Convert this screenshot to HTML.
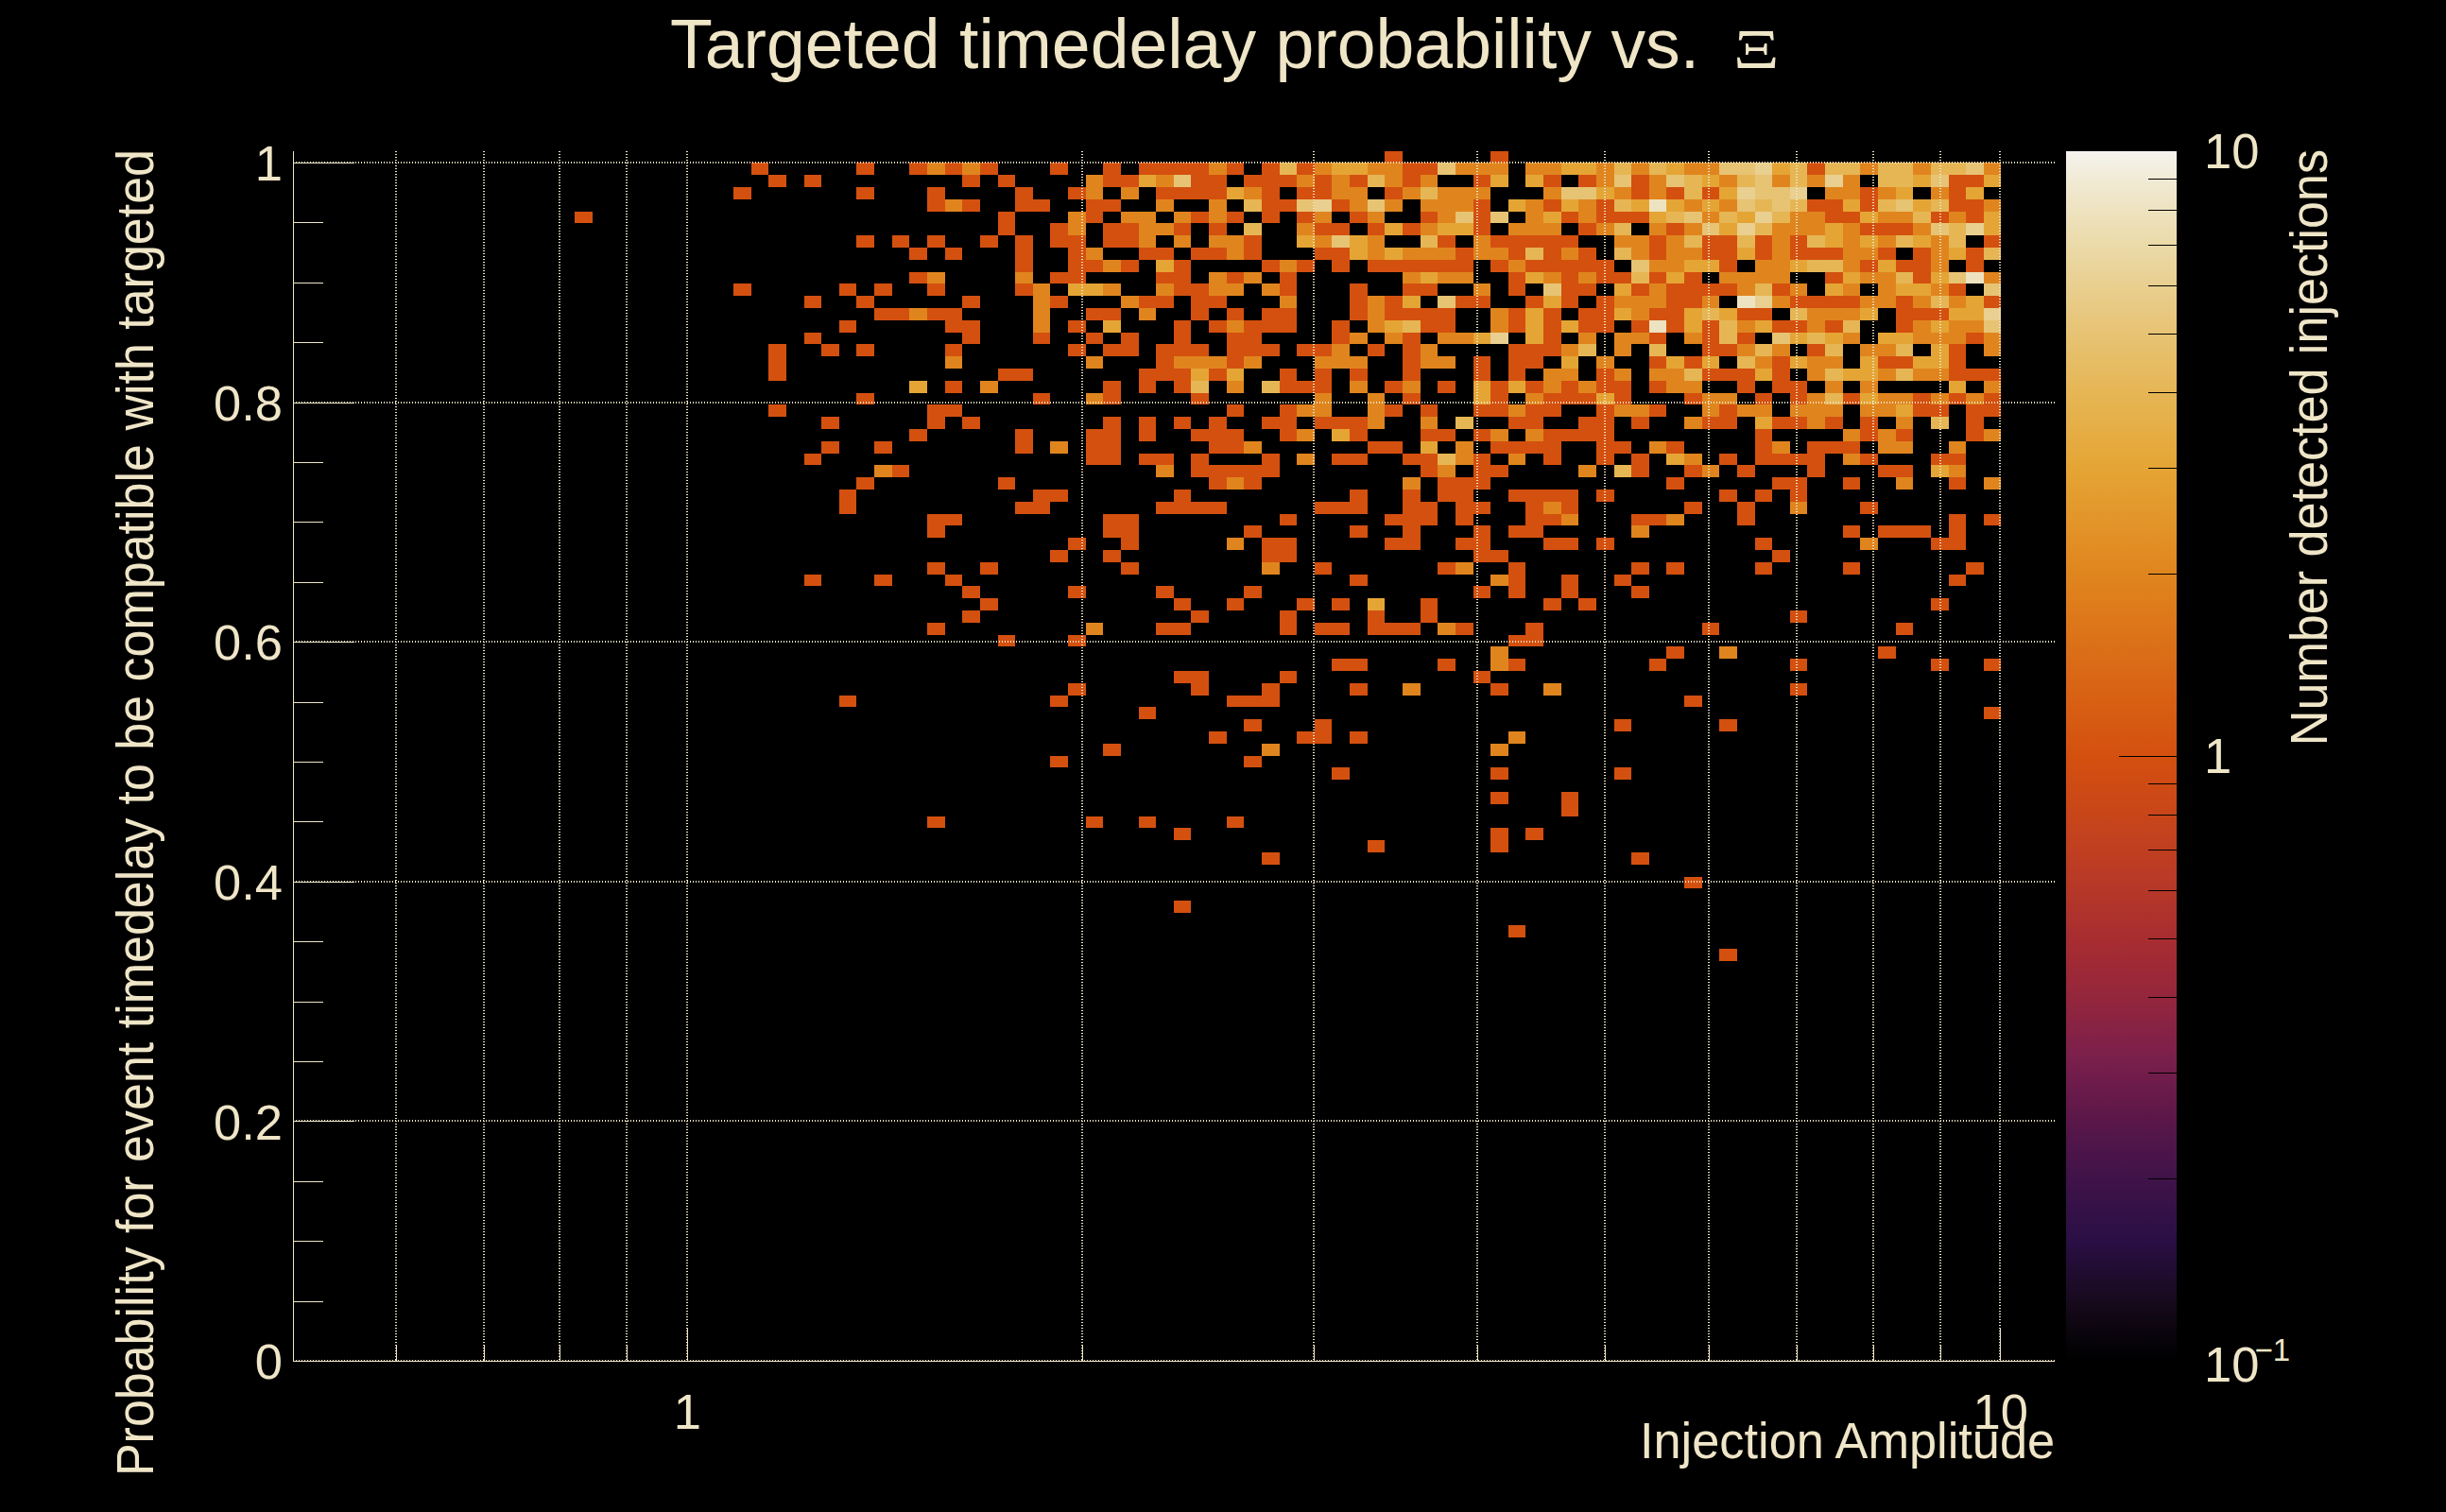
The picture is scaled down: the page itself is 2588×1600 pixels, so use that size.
<!DOCTYPE html><html><head><meta charset="utf-8"><title>Targeted timedelay probability</title><style>

html,body{margin:0;padding:0;background:#000;}
body{width:2588px;height:1600px;position:relative;overflow:hidden;font-family:"Liberation Sans",sans-serif;color:#efe5c7;}
.t{position:absolute;white-space:nowrap;line-height:1;}
.title{font-size:73.4px;left:709px;top:10.7px;}
.xi{font-family:"Liberation Serif",serif;font-size:58.5px;display:inline-block;transform:scaleX(1.29);transform-origin:0 50%;margin-left:36px;}
.yl{font-size:52.5px;text-align:right;width:200px;left:99px;}
.xl{font-size:52.5px;text-align:center;width:200px;}
.cl{font-size:52.5px;left:2332px;}
.at{font-size:55px;}

</style></head><body>
<svg width="2588" height="1600" viewBox="0 0 2588 1600" style="position:absolute;left:0;top:0">
<defs><linearGradient id="cb" x1="0" y1="1" x2="0" y2="0">
<stop offset="0.0000" stop-color="#000000"/>
<stop offset="0.0150" stop-color="#060308"/>
<stop offset="0.0500" stop-color="#180a1e"/>
<stop offset="0.1000" stop-color="#2a0f45"/>
<stop offset="0.1500" stop-color="#3f1349"/>
<stop offset="0.2000" stop-color="#5b1749"/>
<stop offset="0.2500" stop-color="#7a1f4c"/>
<stop offset="0.3000" stop-color="#94263c"/>
<stop offset="0.3500" stop-color="#a82d30"/>
<stop offset="0.4000" stop-color="#b93a26"/>
<stop offset="0.4500" stop-color="#c8451a"/>
<stop offset="0.5000" stop-color="#d4500f"/>
<stop offset="0.6505" stop-color="#e0851e"/>
<stop offset="0.7386" stop-color="#e5a535"/>
<stop offset="0.8010" stop-color="#e6b655"/>
<stop offset="0.8495" stop-color="#e7c374"/>
<stop offset="0.8891" stop-color="#e9cf90"/>
<stop offset="0.9225" stop-color="#ebdaa9"/>
<stop offset="0.9515" stop-color="#eee3c0"/>
<stop offset="0.9771" stop-color="#f1ebd6"/>
<stop offset="1.0000" stop-color="#f5f3ef"/>
</linearGradient></defs>
<g shape-rendering="crispEdges">
<rect x="1465" y="160" width="19" height="12" fill="#d4500f"/>
<rect x="1577" y="160" width="19" height="12" fill="#d4500f"/>
<rect x="795" y="172" width="18" height="13" fill="#d4500f"/>
<rect x="906" y="172" width="19" height="13" fill="#d4500f"/>
<rect x="962" y="172" width="19" height="13" fill="#d4500f"/>
<rect x="981" y="172" width="19" height="13" fill="#e0851e"/>
<rect x="1000" y="172" width="18" height="13" fill="#d4500f"/>
<rect x="1018" y="172" width="19" height="13" fill="#e0851e"/>
<rect x="1037" y="172" width="19" height="13" fill="#d4500f"/>
<rect x="1111" y="172" width="19" height="13" fill="#d4500f"/>
<rect x="1167" y="172" width="19" height="13" fill="#d4500f"/>
<rect x="1205" y="172" width="74" height="13" fill="#d4500f"/>
<rect x="1279" y="172" width="19" height="13" fill="#e0851e"/>
<rect x="1298" y="172" width="18" height="13" fill="#d4500f"/>
<rect x="1335" y="172" width="19" height="13" fill="#d4500f"/>
<rect x="1354" y="172" width="18" height="13" fill="#e6b655"/>
<rect x="1372" y="172" width="19" height="13" fill="#d4500f"/>
<rect x="1391" y="172" width="18" height="13" fill="#e0851e"/>
<rect x="1409" y="172" width="38" height="13" fill="#e5a535"/>
<rect x="1447" y="172" width="37" height="13" fill="#e0851e"/>
<rect x="1484" y="172" width="37" height="13" fill="#d4500f"/>
<rect x="1521" y="172" width="19" height="13" fill="#e7c374"/>
<rect x="1540" y="172" width="56" height="13" fill="#e0851e"/>
<rect x="1614" y="172" width="38" height="13" fill="#e0851e"/>
<rect x="1652" y="172" width="37" height="13" fill="#e5a535"/>
<rect x="1689" y="172" width="19" height="13" fill="#e0851e"/>
<rect x="1708" y="172" width="18" height="13" fill="#e6b655"/>
<rect x="1726" y="172" width="19" height="13" fill="#e0851e"/>
<rect x="1745" y="172" width="18" height="13" fill="#e6b655"/>
<rect x="1763" y="172" width="19" height="13" fill="#e5a535"/>
<rect x="1782" y="172" width="37" height="13" fill="#e0851e"/>
<rect x="1819" y="172" width="38" height="13" fill="#e7c374"/>
<rect x="1857" y="172" width="18" height="13" fill="#e9cf90"/>
<rect x="1875" y="172" width="19" height="13" fill="#e5a535"/>
<rect x="1894" y="172" width="18" height="13" fill="#e6b655"/>
<rect x="1912" y="172" width="19" height="13" fill="#d4500f"/>
<rect x="1931" y="172" width="37" height="13" fill="#e6b655"/>
<rect x="1968" y="172" width="19" height="13" fill="#e0851e"/>
<rect x="1987" y="172" width="37" height="13" fill="#e6b655"/>
<rect x="2024" y="172" width="19" height="13" fill="#e0851e"/>
<rect x="2043" y="172" width="37" height="13" fill="#e6b655"/>
<rect x="2080" y="172" width="19" height="13" fill="#e7c374"/>
<rect x="2099" y="172" width="18" height="13" fill="#e0851e"/>
<rect x="813" y="185" width="19" height="13" fill="#d4500f"/>
<rect x="851" y="185" width="18" height="13" fill="#d4500f"/>
<rect x="1018" y="185" width="19" height="13" fill="#d4500f"/>
<rect x="1056" y="185" width="18" height="13" fill="#d4500f"/>
<rect x="1149" y="185" width="18" height="13" fill="#e0851e"/>
<rect x="1167" y="185" width="38" height="13" fill="#d4500f"/>
<rect x="1205" y="185" width="18" height="13" fill="#e5a535"/>
<rect x="1223" y="185" width="19" height="13" fill="#e0851e"/>
<rect x="1242" y="185" width="18" height="13" fill="#e7c374"/>
<rect x="1260" y="185" width="38" height="13" fill="#d4500f"/>
<rect x="1316" y="185" width="56" height="13" fill="#d4500f"/>
<rect x="1372" y="185" width="19" height="13" fill="#e0851e"/>
<rect x="1391" y="185" width="18" height="13" fill="#d4500f"/>
<rect x="1409" y="185" width="19" height="13" fill="#e0851e"/>
<rect x="1428" y="185" width="19" height="13" fill="#d4500f"/>
<rect x="1447" y="185" width="18" height="13" fill="#e6b655"/>
<rect x="1465" y="185" width="19" height="13" fill="#e0851e"/>
<rect x="1484" y="185" width="19" height="13" fill="#d4500f"/>
<rect x="1503" y="185" width="18" height="13" fill="#e0851e"/>
<rect x="1559" y="185" width="18" height="13" fill="#d4500f"/>
<rect x="1577" y="185" width="19" height="13" fill="#e5a535"/>
<rect x="1614" y="185" width="19" height="13" fill="#e5a535"/>
<rect x="1633" y="185" width="19" height="13" fill="#d4500f"/>
<rect x="1670" y="185" width="19" height="13" fill="#d4500f"/>
<rect x="1689" y="185" width="19" height="13" fill="#e0851e"/>
<rect x="1708" y="185" width="18" height="13" fill="#e7c374"/>
<rect x="1726" y="185" width="19" height="13" fill="#d4500f"/>
<rect x="1745" y="185" width="18" height="13" fill="#e0851e"/>
<rect x="1763" y="185" width="19" height="13" fill="#e7c374"/>
<rect x="1782" y="185" width="19" height="13" fill="#e6b655"/>
<rect x="1801" y="185" width="18" height="13" fill="#e5a535"/>
<rect x="1819" y="185" width="19" height="13" fill="#e0851e"/>
<rect x="1838" y="185" width="19" height="13" fill="#e6b655"/>
<rect x="1857" y="185" width="18" height="13" fill="#e7c374"/>
<rect x="1875" y="185" width="19" height="13" fill="#e0851e"/>
<rect x="1894" y="185" width="18" height="13" fill="#e6b655"/>
<rect x="1912" y="185" width="19" height="13" fill="#e0851e"/>
<rect x="1931" y="185" width="19" height="13" fill="#e9cf90"/>
<rect x="1950" y="185" width="18" height="13" fill="#e0851e"/>
<rect x="1987" y="185" width="37" height="13" fill="#e6b655"/>
<rect x="2024" y="185" width="19" height="13" fill="#e5a535"/>
<rect x="2043" y="185" width="19" height="13" fill="#e7c374"/>
<rect x="2062" y="185" width="37" height="13" fill="#d4500f"/>
<rect x="2099" y="185" width="18" height="13" fill="#e5a535"/>
<rect x="776" y="198" width="19" height="13" fill="#d4500f"/>
<rect x="906" y="198" width="19" height="13" fill="#d4500f"/>
<rect x="981" y="198" width="19" height="13" fill="#d4500f"/>
<rect x="1074" y="198" width="19" height="13" fill="#d4500f"/>
<rect x="1130" y="198" width="19" height="13" fill="#d4500f"/>
<rect x="1149" y="198" width="18" height="13" fill="#e0851e"/>
<rect x="1186" y="198" width="19" height="13" fill="#e0851e"/>
<rect x="1223" y="198" width="75" height="13" fill="#d4500f"/>
<rect x="1298" y="198" width="18" height="13" fill="#e5a535"/>
<rect x="1316" y="198" width="19" height="13" fill="#e0851e"/>
<rect x="1335" y="198" width="19" height="13" fill="#d4500f"/>
<rect x="1372" y="198" width="37" height="13" fill="#d4500f"/>
<rect x="1409" y="198" width="38" height="13" fill="#e0851e"/>
<rect x="1465" y="198" width="19" height="13" fill="#d4500f"/>
<rect x="1484" y="198" width="19" height="13" fill="#e0851e"/>
<rect x="1503" y="198" width="18" height="13" fill="#e6b655"/>
<rect x="1521" y="198" width="56" height="13" fill="#e0851e"/>
<rect x="1633" y="198" width="19" height="13" fill="#e0851e"/>
<rect x="1652" y="198" width="37" height="13" fill="#e7c374"/>
<rect x="1689" y="198" width="19" height="13" fill="#e5a535"/>
<rect x="1708" y="198" width="18" height="13" fill="#e0851e"/>
<rect x="1726" y="198" width="19" height="13" fill="#d4500f"/>
<rect x="1745" y="198" width="18" height="13" fill="#e0851e"/>
<rect x="1763" y="198" width="19" height="13" fill="#d4500f"/>
<rect x="1782" y="198" width="19" height="13" fill="#e6b655"/>
<rect x="1801" y="198" width="18" height="13" fill="#d4500f"/>
<rect x="1819" y="198" width="19" height="13" fill="#e5a535"/>
<rect x="1838" y="198" width="19" height="13" fill="#e9cf90"/>
<rect x="1857" y="198" width="37" height="13" fill="#e7c374"/>
<rect x="1894" y="198" width="18" height="13" fill="#e9cf90"/>
<rect x="1931" y="198" width="37" height="13" fill="#e0851e"/>
<rect x="1968" y="198" width="19" height="13" fill="#d4500f"/>
<rect x="1987" y="198" width="19" height="13" fill="#e0851e"/>
<rect x="2006" y="198" width="18" height="13" fill="#e5a535"/>
<rect x="2043" y="198" width="19" height="13" fill="#e0851e"/>
<rect x="2062" y="198" width="18" height="13" fill="#d4500f"/>
<rect x="2080" y="198" width="19" height="13" fill="#e5a535"/>
<rect x="981" y="211" width="19" height="13" fill="#d4500f"/>
<rect x="1000" y="211" width="18" height="13" fill="#e0851e"/>
<rect x="1018" y="211" width="19" height="13" fill="#d4500f"/>
<rect x="1074" y="211" width="37" height="13" fill="#d4500f"/>
<rect x="1149" y="211" width="37" height="13" fill="#d4500f"/>
<rect x="1223" y="211" width="19" height="13" fill="#e0851e"/>
<rect x="1279" y="211" width="19" height="13" fill="#e0851e"/>
<rect x="1316" y="211" width="19" height="13" fill="#e6b655"/>
<rect x="1335" y="211" width="37" height="13" fill="#d4500f"/>
<rect x="1372" y="211" width="19" height="13" fill="#e7c374"/>
<rect x="1391" y="211" width="18" height="13" fill="#e9cf90"/>
<rect x="1409" y="211" width="19" height="13" fill="#d4500f"/>
<rect x="1428" y="211" width="19" height="13" fill="#e0851e"/>
<rect x="1447" y="211" width="18" height="13" fill="#e7c374"/>
<rect x="1465" y="211" width="19" height="13" fill="#e0851e"/>
<rect x="1503" y="211" width="56" height="13" fill="#e0851e"/>
<rect x="1559" y="211" width="18" height="13" fill="#d4500f"/>
<rect x="1596" y="211" width="18" height="13" fill="#e5a535"/>
<rect x="1614" y="211" width="19" height="13" fill="#e0851e"/>
<rect x="1633" y="211" width="19" height="13" fill="#d4500f"/>
<rect x="1652" y="211" width="18" height="13" fill="#e5a535"/>
<rect x="1670" y="211" width="19" height="13" fill="#e0851e"/>
<rect x="1689" y="211" width="19" height="13" fill="#d4500f"/>
<rect x="1708" y="211" width="18" height="13" fill="#e6b655"/>
<rect x="1726" y="211" width="19" height="13" fill="#e5a535"/>
<rect x="1745" y="211" width="18" height="13" fill="#eee3c0"/>
<rect x="1763" y="211" width="19" height="13" fill="#e5a535"/>
<rect x="1782" y="211" width="19" height="13" fill="#e0851e"/>
<rect x="1801" y="211" width="18" height="13" fill="#e5a535"/>
<rect x="1819" y="211" width="19" height="13" fill="#e0851e"/>
<rect x="1838" y="211" width="19" height="13" fill="#e7c374"/>
<rect x="1857" y="211" width="18" height="13" fill="#e6b655"/>
<rect x="1875" y="211" width="19" height="13" fill="#e7c374"/>
<rect x="1894" y="211" width="18" height="13" fill="#e6b655"/>
<rect x="1912" y="211" width="38" height="13" fill="#d4500f"/>
<rect x="1950" y="211" width="18" height="13" fill="#e5a535"/>
<rect x="1968" y="211" width="19" height="13" fill="#d4500f"/>
<rect x="1987" y="211" width="19" height="13" fill="#e6b655"/>
<rect x="2006" y="211" width="18" height="13" fill="#e7c374"/>
<rect x="2024" y="211" width="19" height="13" fill="#e5a535"/>
<rect x="2043" y="211" width="19" height="13" fill="#e6b655"/>
<rect x="2062" y="211" width="37" height="13" fill="#d4500f"/>
<rect x="2099" y="211" width="18" height="13" fill="#e0851e"/>
<rect x="608" y="224" width="19" height="12" fill="#d4500f"/>
<rect x="1056" y="224" width="18" height="12" fill="#d4500f"/>
<rect x="1130" y="224" width="19" height="12" fill="#e0851e"/>
<rect x="1149" y="224" width="18" height="12" fill="#d4500f"/>
<rect x="1186" y="224" width="37" height="12" fill="#e0851e"/>
<rect x="1242" y="224" width="18" height="12" fill="#e0851e"/>
<rect x="1260" y="224" width="19" height="12" fill="#d4500f"/>
<rect x="1279" y="224" width="19" height="12" fill="#e0851e"/>
<rect x="1298" y="224" width="18" height="12" fill="#d4500f"/>
<rect x="1335" y="224" width="19" height="12" fill="#d4500f"/>
<rect x="1372" y="224" width="19" height="12" fill="#d4500f"/>
<rect x="1391" y="224" width="18" height="12" fill="#e0851e"/>
<rect x="1428" y="224" width="19" height="12" fill="#d4500f"/>
<rect x="1447" y="224" width="18" height="12" fill="#e0851e"/>
<rect x="1503" y="224" width="18" height="12" fill="#d4500f"/>
<rect x="1521" y="224" width="19" height="12" fill="#e0851e"/>
<rect x="1540" y="224" width="19" height="12" fill="#e7c374"/>
<rect x="1559" y="224" width="18" height="12" fill="#d4500f"/>
<rect x="1577" y="224" width="19" height="12" fill="#e7c374"/>
<rect x="1614" y="224" width="19" height="12" fill="#e0851e"/>
<rect x="1633" y="224" width="19" height="12" fill="#e5a535"/>
<rect x="1652" y="224" width="18" height="12" fill="#d4500f"/>
<rect x="1670" y="224" width="19" height="12" fill="#e0851e"/>
<rect x="1689" y="224" width="56" height="12" fill="#d4500f"/>
<rect x="1745" y="224" width="18" height="12" fill="#e5a535"/>
<rect x="1763" y="224" width="19" height="12" fill="#e6b655"/>
<rect x="1782" y="224" width="19" height="12" fill="#e7c374"/>
<rect x="1801" y="224" width="18" height="12" fill="#e0851e"/>
<rect x="1819" y="224" width="19" height="12" fill="#e6b655"/>
<rect x="1838" y="224" width="19" height="12" fill="#e5a535"/>
<rect x="1857" y="224" width="18" height="12" fill="#e9cf90"/>
<rect x="1875" y="224" width="19" height="12" fill="#e6b655"/>
<rect x="1894" y="224" width="37" height="12" fill="#e0851e"/>
<rect x="1931" y="224" width="37" height="12" fill="#d4500f"/>
<rect x="1968" y="224" width="19" height="12" fill="#e5a535"/>
<rect x="1987" y="224" width="37" height="12" fill="#e0851e"/>
<rect x="2024" y="224" width="19" height="12" fill="#e6b655"/>
<rect x="2043" y="224" width="19" height="12" fill="#d4500f"/>
<rect x="2062" y="224" width="18" height="12" fill="#e0851e"/>
<rect x="2080" y="224" width="19" height="12" fill="#d4500f"/>
<rect x="2099" y="224" width="18" height="12" fill="#e5a535"/>
<rect x="1056" y="236" width="18" height="13" fill="#d4500f"/>
<rect x="1111" y="236" width="19" height="13" fill="#d4500f"/>
<rect x="1130" y="236" width="19" height="13" fill="#e0851e"/>
<rect x="1167" y="236" width="38" height="13" fill="#d4500f"/>
<rect x="1205" y="236" width="37" height="13" fill="#e0851e"/>
<rect x="1242" y="236" width="18" height="13" fill="#d4500f"/>
<rect x="1279" y="236" width="19" height="13" fill="#d4500f"/>
<rect x="1316" y="236" width="19" height="13" fill="#e6b655"/>
<rect x="1372" y="236" width="19" height="13" fill="#e0851e"/>
<rect x="1391" y="236" width="37" height="13" fill="#d4500f"/>
<rect x="1447" y="236" width="18" height="13" fill="#d4500f"/>
<rect x="1465" y="236" width="19" height="13" fill="#e5a535"/>
<rect x="1484" y="236" width="19" height="13" fill="#d4500f"/>
<rect x="1503" y="236" width="18" height="13" fill="#e0851e"/>
<rect x="1521" y="236" width="38" height="13" fill="#e5a535"/>
<rect x="1559" y="236" width="18" height="13" fill="#d4500f"/>
<rect x="1596" y="236" width="56" height="13" fill="#e0851e"/>
<rect x="1670" y="236" width="19" height="13" fill="#d4500f"/>
<rect x="1689" y="236" width="19" height="13" fill="#e0851e"/>
<rect x="1708" y="236" width="18" height="13" fill="#e6b655"/>
<rect x="1745" y="236" width="18" height="13" fill="#e0851e"/>
<rect x="1763" y="236" width="19" height="13" fill="#d4500f"/>
<rect x="1782" y="236" width="19" height="13" fill="#e0851e"/>
<rect x="1801" y="236" width="18" height="13" fill="#e7c374"/>
<rect x="1819" y="236" width="19" height="13" fill="#e5a535"/>
<rect x="1838" y="236" width="19" height="13" fill="#e9cf90"/>
<rect x="1857" y="236" width="18" height="13" fill="#e6b655"/>
<rect x="1875" y="236" width="56" height="13" fill="#e0851e"/>
<rect x="1931" y="236" width="19" height="13" fill="#e5a535"/>
<rect x="1950" y="236" width="18" height="13" fill="#e0851e"/>
<rect x="1968" y="236" width="56" height="13" fill="#d4500f"/>
<rect x="2024" y="236" width="19" height="13" fill="#e0851e"/>
<rect x="2043" y="236" width="19" height="13" fill="#e7c374"/>
<rect x="2062" y="236" width="18" height="13" fill="#e6b655"/>
<rect x="2080" y="236" width="19" height="13" fill="#e9cf90"/>
<rect x="2099" y="236" width="18" height="13" fill="#e5a535"/>
<rect x="906" y="249" width="19" height="13" fill="#d4500f"/>
<rect x="944" y="249" width="18" height="13" fill="#d4500f"/>
<rect x="981" y="249" width="19" height="13" fill="#d4500f"/>
<rect x="1037" y="249" width="19" height="13" fill="#d4500f"/>
<rect x="1074" y="249" width="19" height="13" fill="#d4500f"/>
<rect x="1111" y="249" width="38" height="13" fill="#d4500f"/>
<rect x="1167" y="249" width="38" height="13" fill="#d4500f"/>
<rect x="1205" y="249" width="18" height="13" fill="#e0851e"/>
<rect x="1242" y="249" width="18" height="13" fill="#e0851e"/>
<rect x="1279" y="249" width="37" height="13" fill="#e0851e"/>
<rect x="1316" y="249" width="19" height="13" fill="#d4500f"/>
<rect x="1372" y="249" width="19" height="13" fill="#e5a535"/>
<rect x="1391" y="249" width="18" height="13" fill="#e0851e"/>
<rect x="1409" y="249" width="19" height="13" fill="#e7c374"/>
<rect x="1428" y="249" width="19" height="13" fill="#e5a535"/>
<rect x="1447" y="249" width="18" height="13" fill="#e0851e"/>
<rect x="1503" y="249" width="18" height="13" fill="#e6b655"/>
<rect x="1521" y="249" width="19" height="13" fill="#d4500f"/>
<rect x="1559" y="249" width="18" height="13" fill="#e0851e"/>
<rect x="1577" y="249" width="93" height="13" fill="#d4500f"/>
<rect x="1708" y="249" width="37" height="13" fill="#e0851e"/>
<rect x="1745" y="249" width="18" height="13" fill="#d4500f"/>
<rect x="1763" y="249" width="19" height="13" fill="#e0851e"/>
<rect x="1782" y="249" width="19" height="13" fill="#e6b655"/>
<rect x="1801" y="249" width="37" height="13" fill="#d4500f"/>
<rect x="1838" y="249" width="19" height="13" fill="#e6b655"/>
<rect x="1857" y="249" width="18" height="13" fill="#d4500f"/>
<rect x="1875" y="249" width="19" height="13" fill="#e0851e"/>
<rect x="1894" y="249" width="18" height="13" fill="#d4500f"/>
<rect x="1912" y="249" width="19" height="13" fill="#e6b655"/>
<rect x="1931" y="249" width="19" height="13" fill="#e5a535"/>
<rect x="1950" y="249" width="18" height="13" fill="#e0851e"/>
<rect x="1968" y="249" width="19" height="13" fill="#e5a535"/>
<rect x="1987" y="249" width="19" height="13" fill="#e0851e"/>
<rect x="2006" y="249" width="18" height="13" fill="#e6b655"/>
<rect x="2024" y="249" width="19" height="13" fill="#e5a535"/>
<rect x="2043" y="249" width="19" height="13" fill="#e0851e"/>
<rect x="2062" y="249" width="18" height="13" fill="#e6b655"/>
<rect x="2099" y="249" width="18" height="13" fill="#d4500f"/>
<rect x="962" y="262" width="19" height="13" fill="#d4500f"/>
<rect x="1000" y="262" width="18" height="13" fill="#d4500f"/>
<rect x="1074" y="262" width="19" height="13" fill="#d4500f"/>
<rect x="1130" y="262" width="19" height="13" fill="#d4500f"/>
<rect x="1149" y="262" width="18" height="13" fill="#e0851e"/>
<rect x="1205" y="262" width="37" height="13" fill="#d4500f"/>
<rect x="1260" y="262" width="38" height="13" fill="#d4500f"/>
<rect x="1298" y="262" width="18" height="13" fill="#e0851e"/>
<rect x="1316" y="262" width="19" height="13" fill="#d4500f"/>
<rect x="1391" y="262" width="37" height="13" fill="#d4500f"/>
<rect x="1428" y="262" width="19" height="13" fill="#e5a535"/>
<rect x="1447" y="262" width="18" height="13" fill="#e0851e"/>
<rect x="1465" y="262" width="19" height="13" fill="#e5a535"/>
<rect x="1484" y="262" width="56" height="13" fill="#e0851e"/>
<rect x="1540" y="262" width="19" height="13" fill="#d4500f"/>
<rect x="1559" y="262" width="37" height="13" fill="#e0851e"/>
<rect x="1596" y="262" width="18" height="13" fill="#d4500f"/>
<rect x="1614" y="262" width="19" height="13" fill="#e6b655"/>
<rect x="1633" y="262" width="19" height="13" fill="#d4500f"/>
<rect x="1652" y="262" width="18" height="13" fill="#e0851e"/>
<rect x="1670" y="262" width="19" height="13" fill="#d4500f"/>
<rect x="1708" y="262" width="18" height="13" fill="#e6b655"/>
<rect x="1726" y="262" width="19" height="13" fill="#e0851e"/>
<rect x="1745" y="262" width="18" height="13" fill="#d4500f"/>
<rect x="1763" y="262" width="38" height="13" fill="#e0851e"/>
<rect x="1801" y="262" width="37" height="13" fill="#d4500f"/>
<rect x="1838" y="262" width="19" height="13" fill="#e5a535"/>
<rect x="1857" y="262" width="18" height="13" fill="#d4500f"/>
<rect x="1875" y="262" width="19" height="13" fill="#e0851e"/>
<rect x="1894" y="262" width="56" height="13" fill="#d4500f"/>
<rect x="1950" y="262" width="37" height="13" fill="#e0851e"/>
<rect x="1987" y="262" width="19" height="13" fill="#d4500f"/>
<rect x="2024" y="262" width="19" height="13" fill="#d4500f"/>
<rect x="2043" y="262" width="19" height="13" fill="#e0851e"/>
<rect x="2062" y="262" width="18" height="13" fill="#e5a535"/>
<rect x="2080" y="262" width="19" height="13" fill="#d4500f"/>
<rect x="2099" y="262" width="18" height="13" fill="#e6b655"/>
<rect x="1074" y="275" width="19" height="13" fill="#d4500f"/>
<rect x="1130" y="275" width="37" height="13" fill="#d4500f"/>
<rect x="1167" y="275" width="19" height="13" fill="#e0851e"/>
<rect x="1186" y="275" width="19" height="13" fill="#d4500f"/>
<rect x="1223" y="275" width="19" height="13" fill="#e5a535"/>
<rect x="1242" y="275" width="18" height="13" fill="#d4500f"/>
<rect x="1335" y="275" width="19" height="13" fill="#d4500f"/>
<rect x="1354" y="275" width="18" height="13" fill="#e0851e"/>
<rect x="1372" y="275" width="19" height="13" fill="#d4500f"/>
<rect x="1409" y="275" width="19" height="13" fill="#d4500f"/>
<rect x="1447" y="275" width="112" height="13" fill="#d4500f"/>
<rect x="1577" y="275" width="19" height="13" fill="#d4500f"/>
<rect x="1596" y="275" width="18" height="13" fill="#e0851e"/>
<rect x="1614" y="275" width="94" height="13" fill="#d4500f"/>
<rect x="1726" y="275" width="19" height="13" fill="#e7c374"/>
<rect x="1745" y="275" width="37" height="13" fill="#e0851e"/>
<rect x="1782" y="275" width="37" height="13" fill="#e5a535"/>
<rect x="1819" y="275" width="19" height="13" fill="#d4500f"/>
<rect x="1857" y="275" width="37" height="13" fill="#e0851e"/>
<rect x="1894" y="275" width="18" height="13" fill="#e5a535"/>
<rect x="1912" y="275" width="38" height="13" fill="#e6b655"/>
<rect x="1950" y="275" width="18" height="13" fill="#e0851e"/>
<rect x="1968" y="275" width="19" height="13" fill="#d4500f"/>
<rect x="1987" y="275" width="19" height="13" fill="#e5a535"/>
<rect x="2006" y="275" width="37" height="13" fill="#d4500f"/>
<rect x="2043" y="275" width="19" height="13" fill="#e0851e"/>
<rect x="2080" y="275" width="19" height="13" fill="#d4500f"/>
<rect x="962" y="288" width="19" height="12" fill="#d4500f"/>
<rect x="981" y="288" width="19" height="12" fill="#e0851e"/>
<rect x="1074" y="288" width="19" height="12" fill="#e0851e"/>
<rect x="1111" y="288" width="38" height="12" fill="#d4500f"/>
<rect x="1223" y="288" width="37" height="12" fill="#d4500f"/>
<rect x="1279" y="288" width="19" height="12" fill="#e0851e"/>
<rect x="1298" y="288" width="18" height="12" fill="#d4500f"/>
<rect x="1316" y="288" width="19" height="12" fill="#e0851e"/>
<rect x="1354" y="288" width="18" height="12" fill="#d4500f"/>
<rect x="1484" y="288" width="19" height="12" fill="#e0851e"/>
<rect x="1503" y="288" width="18" height="12" fill="#e5a535"/>
<rect x="1521" y="288" width="38" height="12" fill="#e0851e"/>
<rect x="1596" y="288" width="18" height="12" fill="#d4500f"/>
<rect x="1614" y="288" width="19" height="12" fill="#e5a535"/>
<rect x="1633" y="288" width="19" height="12" fill="#e0851e"/>
<rect x="1652" y="288" width="18" height="12" fill="#d4500f"/>
<rect x="1670" y="288" width="19" height="12" fill="#e0851e"/>
<rect x="1689" y="288" width="37" height="12" fill="#d4500f"/>
<rect x="1726" y="288" width="19" height="12" fill="#e6b655"/>
<rect x="1745" y="288" width="18" height="12" fill="#d4500f"/>
<rect x="1763" y="288" width="19" height="12" fill="#e5a535"/>
<rect x="1782" y="288" width="19" height="12" fill="#d4500f"/>
<rect x="1819" y="288" width="75" height="12" fill="#e0851e"/>
<rect x="1931" y="288" width="19" height="12" fill="#d4500f"/>
<rect x="1950" y="288" width="18" height="12" fill="#e5a535"/>
<rect x="1968" y="288" width="38" height="12" fill="#e0851e"/>
<rect x="2006" y="288" width="18" height="12" fill="#e6b655"/>
<rect x="2024" y="288" width="19" height="12" fill="#d4500f"/>
<rect x="2043" y="288" width="19" height="12" fill="#e5a535"/>
<rect x="2062" y="288" width="18" height="12" fill="#e7c374"/>
<rect x="2080" y="288" width="19" height="12" fill="#eee3c0"/>
<rect x="2099" y="288" width="18" height="12" fill="#e0851e"/>
<rect x="776" y="300" width="19" height="13" fill="#d4500f"/>
<rect x="888" y="300" width="18" height="13" fill="#d4500f"/>
<rect x="925" y="300" width="19" height="13" fill="#d4500f"/>
<rect x="981" y="300" width="19" height="13" fill="#d4500f"/>
<rect x="1074" y="300" width="19" height="13" fill="#d4500f"/>
<rect x="1093" y="300" width="18" height="13" fill="#e0851e"/>
<rect x="1130" y="300" width="37" height="13" fill="#e5a535"/>
<rect x="1167" y="300" width="19" height="13" fill="#e0851e"/>
<rect x="1223" y="300" width="19" height="13" fill="#e0851e"/>
<rect x="1242" y="300" width="37" height="13" fill="#d4500f"/>
<rect x="1279" y="300" width="37" height="13" fill="#e0851e"/>
<rect x="1335" y="300" width="19" height="13" fill="#e0851e"/>
<rect x="1354" y="300" width="18" height="13" fill="#d4500f"/>
<rect x="1428" y="300" width="19" height="13" fill="#d4500f"/>
<rect x="1484" y="300" width="37" height="13" fill="#d4500f"/>
<rect x="1559" y="300" width="18" height="13" fill="#e0851e"/>
<rect x="1596" y="300" width="18" height="13" fill="#d4500f"/>
<rect x="1633" y="300" width="19" height="13" fill="#e7c374"/>
<rect x="1652" y="300" width="37" height="13" fill="#d4500f"/>
<rect x="1708" y="300" width="18" height="13" fill="#e5a535"/>
<rect x="1726" y="300" width="19" height="13" fill="#d4500f"/>
<rect x="1745" y="300" width="18" height="13" fill="#e0851e"/>
<rect x="1763" y="300" width="75" height="13" fill="#d4500f"/>
<rect x="1838" y="300" width="19" height="13" fill="#e0851e"/>
<rect x="1857" y="300" width="18" height="13" fill="#e6b655"/>
<rect x="1875" y="300" width="19" height="13" fill="#d4500f"/>
<rect x="1894" y="300" width="18" height="13" fill="#e0851e"/>
<rect x="1931" y="300" width="19" height="13" fill="#e5a535"/>
<rect x="1950" y="300" width="18" height="13" fill="#e0851e"/>
<rect x="1987" y="300" width="19" height="13" fill="#e0851e"/>
<rect x="2006" y="300" width="37" height="13" fill="#e5a535"/>
<rect x="2043" y="300" width="19" height="13" fill="#e0851e"/>
<rect x="2062" y="300" width="18" height="13" fill="#d4500f"/>
<rect x="2099" y="300" width="18" height="13" fill="#e7c374"/>
<rect x="851" y="313" width="18" height="13" fill="#d4500f"/>
<rect x="906" y="313" width="19" height="13" fill="#d4500f"/>
<rect x="1018" y="313" width="19" height="13" fill="#d4500f"/>
<rect x="1093" y="313" width="18" height="13" fill="#e0851e"/>
<rect x="1111" y="313" width="19" height="13" fill="#d4500f"/>
<rect x="1186" y="313" width="19" height="13" fill="#e0851e"/>
<rect x="1205" y="313" width="37" height="13" fill="#d4500f"/>
<rect x="1260" y="313" width="38" height="13" fill="#d4500f"/>
<rect x="1354" y="313" width="18" height="13" fill="#e0851e"/>
<rect x="1428" y="313" width="19" height="13" fill="#d4500f"/>
<rect x="1447" y="313" width="18" height="13" fill="#e0851e"/>
<rect x="1465" y="313" width="19" height="13" fill="#d4500f"/>
<rect x="1484" y="313" width="19" height="13" fill="#e5a535"/>
<rect x="1521" y="313" width="19" height="13" fill="#e7c374"/>
<rect x="1540" y="313" width="37" height="13" fill="#d4500f"/>
<rect x="1614" y="313" width="19" height="13" fill="#d4500f"/>
<rect x="1633" y="313" width="19" height="13" fill="#e5a535"/>
<rect x="1652" y="313" width="18" height="13" fill="#d4500f"/>
<rect x="1689" y="313" width="19" height="13" fill="#d4500f"/>
<rect x="1708" y="313" width="55" height="13" fill="#e0851e"/>
<rect x="1763" y="313" width="38" height="13" fill="#d4500f"/>
<rect x="1801" y="313" width="18" height="13" fill="#e0851e"/>
<rect x="1838" y="313" width="19" height="13" fill="#eee3c0"/>
<rect x="1857" y="313" width="18" height="13" fill="#e9cf90"/>
<rect x="1875" y="313" width="19" height="13" fill="#e0851e"/>
<rect x="1894" y="313" width="74" height="13" fill="#d4500f"/>
<rect x="1968" y="313" width="38" height="13" fill="#e0851e"/>
<rect x="2006" y="313" width="18" height="13" fill="#d4500f"/>
<rect x="2024" y="313" width="19" height="13" fill="#e0851e"/>
<rect x="2043" y="313" width="19" height="13" fill="#e6b655"/>
<rect x="2062" y="313" width="18" height="13" fill="#e0851e"/>
<rect x="2080" y="313" width="19" height="13" fill="#e5a535"/>
<rect x="2099" y="313" width="18" height="13" fill="#d4500f"/>
<rect x="925" y="326" width="37" height="13" fill="#d4500f"/>
<rect x="962" y="326" width="19" height="13" fill="#e0851e"/>
<rect x="981" y="326" width="37" height="13" fill="#d4500f"/>
<rect x="1093" y="326" width="18" height="13" fill="#e0851e"/>
<rect x="1149" y="326" width="37" height="13" fill="#d4500f"/>
<rect x="1205" y="326" width="18" height="13" fill="#e0851e"/>
<rect x="1260" y="326" width="19" height="13" fill="#d4500f"/>
<rect x="1298" y="326" width="18" height="13" fill="#d4500f"/>
<rect x="1335" y="326" width="37" height="13" fill="#d4500f"/>
<rect x="1428" y="326" width="19" height="13" fill="#d4500f"/>
<rect x="1447" y="326" width="18" height="13" fill="#e0851e"/>
<rect x="1465" y="326" width="75" height="13" fill="#d4500f"/>
<rect x="1577" y="326" width="19" height="13" fill="#e0851e"/>
<rect x="1596" y="326" width="18" height="13" fill="#d4500f"/>
<rect x="1614" y="326" width="19" height="13" fill="#e5a535"/>
<rect x="1633" y="326" width="19" height="13" fill="#d4500f"/>
<rect x="1670" y="326" width="38" height="13" fill="#d4500f"/>
<rect x="1708" y="326" width="18" height="13" fill="#e5a535"/>
<rect x="1726" y="326" width="19" height="13" fill="#e0851e"/>
<rect x="1745" y="326" width="37" height="13" fill="#d4500f"/>
<rect x="1782" y="326" width="19" height="13" fill="#e5a535"/>
<rect x="1801" y="326" width="18" height="13" fill="#e6b655"/>
<rect x="1819" y="326" width="19" height="13" fill="#e5a535"/>
<rect x="1838" y="326" width="37" height="13" fill="#d4500f"/>
<rect x="1894" y="326" width="18" height="13" fill="#e6b655"/>
<rect x="1912" y="326" width="56" height="13" fill="#e0851e"/>
<rect x="1968" y="326" width="19" height="13" fill="#e5a535"/>
<rect x="2006" y="326" width="56" height="13" fill="#d4500f"/>
<rect x="2062" y="326" width="37" height="13" fill="#e5a535"/>
<rect x="2099" y="326" width="18" height="13" fill="#e9cf90"/>
<rect x="888" y="339" width="18" height="13" fill="#d4500f"/>
<rect x="1000" y="339" width="37" height="13" fill="#d4500f"/>
<rect x="1093" y="339" width="18" height="13" fill="#e0851e"/>
<rect x="1130" y="339" width="19" height="13" fill="#d4500f"/>
<rect x="1167" y="339" width="19" height="13" fill="#e5a535"/>
<rect x="1242" y="339" width="18" height="13" fill="#d4500f"/>
<rect x="1279" y="339" width="19" height="13" fill="#d4500f"/>
<rect x="1298" y="339" width="18" height="13" fill="#e0851e"/>
<rect x="1316" y="339" width="56" height="13" fill="#d4500f"/>
<rect x="1409" y="339" width="19" height="13" fill="#d4500f"/>
<rect x="1447" y="339" width="18" height="13" fill="#e0851e"/>
<rect x="1465" y="339" width="19" height="13" fill="#e5a535"/>
<rect x="1484" y="339" width="19" height="13" fill="#e6b655"/>
<rect x="1503" y="339" width="37" height="13" fill="#d4500f"/>
<rect x="1577" y="339" width="19" height="13" fill="#e0851e"/>
<rect x="1596" y="339" width="18" height="13" fill="#d4500f"/>
<rect x="1614" y="339" width="19" height="13" fill="#e5a535"/>
<rect x="1633" y="339" width="19" height="13" fill="#d4500f"/>
<rect x="1652" y="339" width="18" height="13" fill="#e5a535"/>
<rect x="1670" y="339" width="38" height="13" fill="#d4500f"/>
<rect x="1726" y="339" width="19" height="13" fill="#d4500f"/>
<rect x="1745" y="339" width="18" height="13" fill="#eee3c0"/>
<rect x="1763" y="339" width="19" height="13" fill="#d4500f"/>
<rect x="1782" y="339" width="19" height="13" fill="#e5a535"/>
<rect x="1801" y="339" width="18" height="13" fill="#d4500f"/>
<rect x="1819" y="339" width="19" height="13" fill="#e6b655"/>
<rect x="1838" y="339" width="19" height="13" fill="#e0851e"/>
<rect x="1857" y="339" width="18" height="13" fill="#e5a535"/>
<rect x="1875" y="339" width="37" height="13" fill="#d4500f"/>
<rect x="1912" y="339" width="19" height="13" fill="#e0851e"/>
<rect x="1931" y="339" width="19" height="13" fill="#d4500f"/>
<rect x="1950" y="339" width="18" height="13" fill="#e6b655"/>
<rect x="2006" y="339" width="18" height="13" fill="#d4500f"/>
<rect x="2024" y="339" width="19" height="13" fill="#e0851e"/>
<rect x="2043" y="339" width="19" height="13" fill="#e5a535"/>
<rect x="2062" y="339" width="37" height="13" fill="#e0851e"/>
<rect x="2099" y="339" width="18" height="13" fill="#e7c374"/>
<rect x="851" y="352" width="18" height="12" fill="#d4500f"/>
<rect x="1018" y="352" width="19" height="12" fill="#d4500f"/>
<rect x="1093" y="352" width="18" height="12" fill="#d4500f"/>
<rect x="1149" y="352" width="18" height="12" fill="#d4500f"/>
<rect x="1186" y="352" width="19" height="12" fill="#d4500f"/>
<rect x="1242" y="352" width="18" height="12" fill="#d4500f"/>
<rect x="1298" y="352" width="37" height="12" fill="#d4500f"/>
<rect x="1409" y="352" width="19" height="12" fill="#d4500f"/>
<rect x="1428" y="352" width="19" height="12" fill="#e0851e"/>
<rect x="1465" y="352" width="19" height="12" fill="#e0851e"/>
<rect x="1484" y="352" width="19" height="12" fill="#d4500f"/>
<rect x="1521" y="352" width="38" height="12" fill="#e0851e"/>
<rect x="1559" y="352" width="18" height="12" fill="#e5a535"/>
<rect x="1577" y="352" width="19" height="12" fill="#e9cf90"/>
<rect x="1614" y="352" width="19" height="12" fill="#e5a535"/>
<rect x="1633" y="352" width="19" height="12" fill="#d4500f"/>
<rect x="1670" y="352" width="19" height="12" fill="#e0851e"/>
<rect x="1708" y="352" width="37" height="12" fill="#e0851e"/>
<rect x="1745" y="352" width="18" height="12" fill="#d4500f"/>
<rect x="1782" y="352" width="19" height="12" fill="#e0851e"/>
<rect x="1801" y="352" width="18" height="12" fill="#d4500f"/>
<rect x="1819" y="352" width="19" height="12" fill="#e6b655"/>
<rect x="1838" y="352" width="19" height="12" fill="#d4500f"/>
<rect x="1875" y="352" width="19" height="12" fill="#e7c374"/>
<rect x="1894" y="352" width="18" height="12" fill="#e5a535"/>
<rect x="1912" y="352" width="19" height="12" fill="#e6b655"/>
<rect x="1931" y="352" width="19" height="12" fill="#e5a535"/>
<rect x="1950" y="352" width="18" height="12" fill="#e0851e"/>
<rect x="1987" y="352" width="37" height="12" fill="#e5a535"/>
<rect x="2024" y="352" width="56" height="12" fill="#e0851e"/>
<rect x="2080" y="352" width="19" height="12" fill="#d4500f"/>
<rect x="2099" y="352" width="18" height="12" fill="#e0851e"/>
<rect x="813" y="364" width="19" height="13" fill="#d4500f"/>
<rect x="869" y="364" width="19" height="13" fill="#d4500f"/>
<rect x="906" y="364" width="19" height="13" fill="#d4500f"/>
<rect x="1000" y="364" width="18" height="13" fill="#d4500f"/>
<rect x="1130" y="364" width="19" height="13" fill="#d4500f"/>
<rect x="1167" y="364" width="38" height="13" fill="#d4500f"/>
<rect x="1223" y="364" width="56" height="13" fill="#d4500f"/>
<rect x="1298" y="364" width="56" height="13" fill="#d4500f"/>
<rect x="1372" y="364" width="37" height="13" fill="#d4500f"/>
<rect x="1409" y="364" width="19" height="13" fill="#e0851e"/>
<rect x="1447" y="364" width="18" height="13" fill="#d4500f"/>
<rect x="1484" y="364" width="19" height="13" fill="#d4500f"/>
<rect x="1503" y="364" width="18" height="13" fill="#e0851e"/>
<rect x="1596" y="364" width="56" height="13" fill="#d4500f"/>
<rect x="1652" y="364" width="18" height="13" fill="#e0851e"/>
<rect x="1670" y="364" width="19" height="13" fill="#e6b655"/>
<rect x="1708" y="364" width="18" height="13" fill="#e0851e"/>
<rect x="1745" y="364" width="18" height="13" fill="#e6b655"/>
<rect x="1801" y="364" width="37" height="13" fill="#d4500f"/>
<rect x="1838" y="364" width="19" height="13" fill="#e0851e"/>
<rect x="1857" y="364" width="18" height="13" fill="#e6b655"/>
<rect x="1875" y="364" width="19" height="13" fill="#e0851e"/>
<rect x="1912" y="364" width="19" height="13" fill="#d4500f"/>
<rect x="1931" y="364" width="19" height="13" fill="#e6b655"/>
<rect x="1968" y="364" width="38" height="13" fill="#e0851e"/>
<rect x="2006" y="364" width="18" height="13" fill="#e6b655"/>
<rect x="2043" y="364" width="19" height="13" fill="#e5a535"/>
<rect x="2062" y="364" width="18" height="13" fill="#d4500f"/>
<rect x="2099" y="364" width="18" height="13" fill="#e0851e"/>
<rect x="813" y="377" width="19" height="13" fill="#d4500f"/>
<rect x="1000" y="377" width="18" height="13" fill="#e0851e"/>
<rect x="1149" y="377" width="18" height="13" fill="#e0851e"/>
<rect x="1223" y="377" width="19" height="13" fill="#d4500f"/>
<rect x="1242" y="377" width="56" height="13" fill="#e0851e"/>
<rect x="1298" y="377" width="18" height="13" fill="#d4500f"/>
<rect x="1316" y="377" width="19" height="13" fill="#e0851e"/>
<rect x="1391" y="377" width="56" height="13" fill="#e0851e"/>
<rect x="1484" y="377" width="19" height="13" fill="#d4500f"/>
<rect x="1503" y="377" width="37" height="13" fill="#e0851e"/>
<rect x="1559" y="377" width="18" height="13" fill="#d4500f"/>
<rect x="1596" y="377" width="37" height="13" fill="#d4500f"/>
<rect x="1652" y="377" width="18" height="13" fill="#e5a535"/>
<rect x="1689" y="377" width="19" height="13" fill="#e0851e"/>
<rect x="1745" y="377" width="18" height="13" fill="#d4500f"/>
<rect x="1763" y="377" width="19" height="13" fill="#e5a535"/>
<rect x="1782" y="377" width="19" height="13" fill="#d4500f"/>
<rect x="1801" y="377" width="18" height="13" fill="#e5a535"/>
<rect x="1838" y="377" width="19" height="13" fill="#e6b655"/>
<rect x="1857" y="377" width="18" height="13" fill="#e0851e"/>
<rect x="1875" y="377" width="19" height="13" fill="#d4500f"/>
<rect x="1894" y="377" width="18" height="13" fill="#e5a535"/>
<rect x="1912" y="377" width="38" height="13" fill="#e0851e"/>
<rect x="1968" y="377" width="19" height="13" fill="#e5a535"/>
<rect x="1987" y="377" width="37" height="13" fill="#d4500f"/>
<rect x="2024" y="377" width="38" height="13" fill="#e5a535"/>
<rect x="2062" y="377" width="18" height="13" fill="#d4500f"/>
<rect x="813" y="390" width="19" height="13" fill="#d4500f"/>
<rect x="1056" y="390" width="37" height="13" fill="#d4500f"/>
<rect x="1205" y="390" width="55" height="13" fill="#d4500f"/>
<rect x="1260" y="390" width="19" height="13" fill="#e5a535"/>
<rect x="1279" y="390" width="19" height="13" fill="#d4500f"/>
<rect x="1298" y="390" width="18" height="13" fill="#e5a535"/>
<rect x="1354" y="390" width="18" height="13" fill="#d4500f"/>
<rect x="1391" y="390" width="18" height="13" fill="#d4500f"/>
<rect x="1428" y="390" width="19" height="13" fill="#d4500f"/>
<rect x="1484" y="390" width="19" height="13" fill="#d4500f"/>
<rect x="1559" y="390" width="18" height="13" fill="#d4500f"/>
<rect x="1596" y="390" width="18" height="13" fill="#d4500f"/>
<rect x="1633" y="390" width="37" height="13" fill="#e0851e"/>
<rect x="1689" y="390" width="19" height="13" fill="#d4500f"/>
<rect x="1708" y="390" width="18" height="13" fill="#e0851e"/>
<rect x="1745" y="390" width="37" height="13" fill="#e0851e"/>
<rect x="1782" y="390" width="19" height="13" fill="#e6b655"/>
<rect x="1801" y="390" width="56" height="13" fill="#d4500f"/>
<rect x="1857" y="390" width="18" height="13" fill="#e5a535"/>
<rect x="1875" y="390" width="19" height="13" fill="#d4500f"/>
<rect x="1912" y="390" width="19" height="13" fill="#e0851e"/>
<rect x="1931" y="390" width="19" height="13" fill="#e6b655"/>
<rect x="1950" y="390" width="37" height="13" fill="#e5a535"/>
<rect x="1987" y="390" width="19" height="13" fill="#e0851e"/>
<rect x="2006" y="390" width="18" height="13" fill="#e6b655"/>
<rect x="2024" y="390" width="38" height="13" fill="#e0851e"/>
<rect x="2062" y="390" width="55" height="13" fill="#d4500f"/>
<rect x="962" y="403" width="19" height="13" fill="#e5a535"/>
<rect x="1000" y="403" width="18" height="13" fill="#d4500f"/>
<rect x="1037" y="403" width="19" height="13" fill="#e0851e"/>
<rect x="1167" y="403" width="19" height="13" fill="#d4500f"/>
<rect x="1205" y="403" width="18" height="13" fill="#d4500f"/>
<rect x="1242" y="403" width="18" height="13" fill="#d4500f"/>
<rect x="1260" y="403" width="19" height="13" fill="#e6b655"/>
<rect x="1298" y="403" width="18" height="13" fill="#e0851e"/>
<rect x="1335" y="403" width="19" height="13" fill="#e6b655"/>
<rect x="1354" y="403" width="55" height="13" fill="#d4500f"/>
<rect x="1428" y="403" width="19" height="13" fill="#e0851e"/>
<rect x="1465" y="403" width="19" height="13" fill="#d4500f"/>
<rect x="1484" y="403" width="19" height="13" fill="#e0851e"/>
<rect x="1521" y="403" width="19" height="13" fill="#d4500f"/>
<rect x="1559" y="403" width="18" height="13" fill="#e5a535"/>
<rect x="1577" y="403" width="19" height="13" fill="#d4500f"/>
<rect x="1596" y="403" width="18" height="13" fill="#e5a535"/>
<rect x="1614" y="403" width="19" height="13" fill="#d4500f"/>
<rect x="1633" y="403" width="19" height="13" fill="#e0851e"/>
<rect x="1652" y="403" width="18" height="13" fill="#d4500f"/>
<rect x="1670" y="403" width="19" height="13" fill="#e0851e"/>
<rect x="1689" y="403" width="37" height="13" fill="#d4500f"/>
<rect x="1745" y="403" width="18" height="13" fill="#d4500f"/>
<rect x="1763" y="403" width="38" height="13" fill="#e0851e"/>
<rect x="1838" y="403" width="19" height="13" fill="#d4500f"/>
<rect x="1875" y="403" width="37" height="13" fill="#d4500f"/>
<rect x="1931" y="403" width="19" height="13" fill="#e0851e"/>
<rect x="1968" y="403" width="19" height="13" fill="#e0851e"/>
<rect x="2062" y="403" width="18" height="13" fill="#e5a535"/>
<rect x="2099" y="403" width="18" height="13" fill="#e0851e"/>
<rect x="906" y="416" width="19" height="12" fill="#d4500f"/>
<rect x="1093" y="416" width="18" height="12" fill="#d4500f"/>
<rect x="1149" y="416" width="18" height="12" fill="#e0851e"/>
<rect x="1167" y="416" width="19" height="12" fill="#d4500f"/>
<rect x="1260" y="416" width="19" height="12" fill="#d4500f"/>
<rect x="1391" y="416" width="18" height="12" fill="#e0851e"/>
<rect x="1447" y="416" width="18" height="12" fill="#e0851e"/>
<rect x="1484" y="416" width="19" height="12" fill="#d4500f"/>
<rect x="1559" y="416" width="18" height="12" fill="#e5a535"/>
<rect x="1577" y="416" width="19" height="12" fill="#d4500f"/>
<rect x="1614" y="416" width="19" height="12" fill="#e0851e"/>
<rect x="1633" y="416" width="56" height="12" fill="#d4500f"/>
<rect x="1689" y="416" width="19" height="12" fill="#e5a535"/>
<rect x="1708" y="416" width="18" height="12" fill="#d4500f"/>
<rect x="1782" y="416" width="19" height="12" fill="#d4500f"/>
<rect x="1801" y="416" width="37" height="12" fill="#e0851e"/>
<rect x="1857" y="416" width="18" height="12" fill="#d4500f"/>
<rect x="1894" y="416" width="18" height="12" fill="#d4500f"/>
<rect x="1912" y="416" width="19" height="12" fill="#e0851e"/>
<rect x="1931" y="416" width="19" height="12" fill="#e6b655"/>
<rect x="1950" y="416" width="18" height="12" fill="#d4500f"/>
<rect x="1968" y="416" width="19" height="12" fill="#e5a535"/>
<rect x="1987" y="416" width="37" height="12" fill="#e0851e"/>
<rect x="2024" y="416" width="19" height="12" fill="#d4500f"/>
<rect x="2043" y="416" width="19" height="12" fill="#e0851e"/>
<rect x="2062" y="416" width="18" height="12" fill="#d4500f"/>
<rect x="2080" y="416" width="19" height="12" fill="#e0851e"/>
<rect x="2099" y="416" width="18" height="12" fill="#d4500f"/>
<rect x="813" y="428" width="19" height="13" fill="#d4500f"/>
<rect x="981" y="428" width="37" height="13" fill="#d4500f"/>
<rect x="1298" y="428" width="18" height="13" fill="#d4500f"/>
<rect x="1354" y="428" width="18" height="13" fill="#d4500f"/>
<rect x="1372" y="428" width="37" height="13" fill="#e0851e"/>
<rect x="1447" y="428" width="18" height="13" fill="#e0851e"/>
<rect x="1465" y="428" width="19" height="13" fill="#d4500f"/>
<rect x="1503" y="428" width="18" height="13" fill="#d4500f"/>
<rect x="1559" y="428" width="37" height="13" fill="#d4500f"/>
<rect x="1596" y="428" width="18" height="13" fill="#e0851e"/>
<rect x="1614" y="428" width="38" height="13" fill="#d4500f"/>
<rect x="1689" y="428" width="19" height="13" fill="#d4500f"/>
<rect x="1708" y="428" width="37" height="13" fill="#e0851e"/>
<rect x="1745" y="428" width="18" height="13" fill="#d4500f"/>
<rect x="1801" y="428" width="18" height="13" fill="#e0851e"/>
<rect x="1819" y="428" width="19" height="13" fill="#d4500f"/>
<rect x="1838" y="428" width="37" height="13" fill="#e0851e"/>
<rect x="1894" y="428" width="56" height="13" fill="#e0851e"/>
<rect x="1968" y="428" width="38" height="13" fill="#e0851e"/>
<rect x="2006" y="428" width="18" height="13" fill="#e5a535"/>
<rect x="2024" y="428" width="38" height="13" fill="#d4500f"/>
<rect x="2080" y="428" width="37" height="13" fill="#d4500f"/>
<rect x="869" y="441" width="19" height="13" fill="#d4500f"/>
<rect x="981" y="441" width="19" height="13" fill="#d4500f"/>
<rect x="1018" y="441" width="19" height="13" fill="#d4500f"/>
<rect x="1167" y="441" width="19" height="13" fill="#d4500f"/>
<rect x="1205" y="441" width="18" height="13" fill="#d4500f"/>
<rect x="1242" y="441" width="18" height="13" fill="#d4500f"/>
<rect x="1279" y="441" width="19" height="13" fill="#d4500f"/>
<rect x="1335" y="441" width="37" height="13" fill="#d4500f"/>
<rect x="1391" y="441" width="56" height="13" fill="#d4500f"/>
<rect x="1447" y="441" width="18" height="13" fill="#e0851e"/>
<rect x="1503" y="441" width="18" height="13" fill="#e0851e"/>
<rect x="1540" y="441" width="19" height="13" fill="#e6b655"/>
<rect x="1596" y="441" width="37" height="13" fill="#d4500f"/>
<rect x="1670" y="441" width="38" height="13" fill="#d4500f"/>
<rect x="1726" y="441" width="19" height="13" fill="#d4500f"/>
<rect x="1782" y="441" width="19" height="13" fill="#e0851e"/>
<rect x="1801" y="441" width="37" height="13" fill="#d4500f"/>
<rect x="1857" y="441" width="18" height="13" fill="#e5a535"/>
<rect x="1875" y="441" width="37" height="13" fill="#d4500f"/>
<rect x="1912" y="441" width="19" height="13" fill="#e0851e"/>
<rect x="1931" y="441" width="19" height="13" fill="#d4500f"/>
<rect x="1968" y="441" width="19" height="13" fill="#d4500f"/>
<rect x="2006" y="441" width="18" height="13" fill="#e0851e"/>
<rect x="2043" y="441" width="19" height="13" fill="#e6b655"/>
<rect x="2080" y="441" width="19" height="13" fill="#d4500f"/>
<rect x="962" y="454" width="19" height="13" fill="#d4500f"/>
<rect x="1074" y="454" width="19" height="13" fill="#d4500f"/>
<rect x="1149" y="454" width="37" height="13" fill="#d4500f"/>
<rect x="1205" y="454" width="18" height="13" fill="#d4500f"/>
<rect x="1260" y="454" width="56" height="13" fill="#d4500f"/>
<rect x="1354" y="454" width="18" height="13" fill="#d4500f"/>
<rect x="1372" y="454" width="19" height="13" fill="#e0851e"/>
<rect x="1409" y="454" width="19" height="13" fill="#e5a535"/>
<rect x="1428" y="454" width="19" height="13" fill="#d4500f"/>
<rect x="1503" y="454" width="37" height="13" fill="#d4500f"/>
<rect x="1559" y="454" width="18" height="13" fill="#d4500f"/>
<rect x="1577" y="454" width="19" height="13" fill="#e0851e"/>
<rect x="1614" y="454" width="19" height="13" fill="#e0851e"/>
<rect x="1633" y="454" width="75" height="13" fill="#d4500f"/>
<rect x="1857" y="454" width="18" height="13" fill="#d4500f"/>
<rect x="1950" y="454" width="18" height="13" fill="#e0851e"/>
<rect x="1968" y="454" width="19" height="13" fill="#d4500f"/>
<rect x="1987" y="454" width="19" height="13" fill="#e0851e"/>
<rect x="2006" y="454" width="18" height="13" fill="#d4500f"/>
<rect x="2080" y="454" width="19" height="13" fill="#d4500f"/>
<rect x="2099" y="454" width="18" height="13" fill="#e0851e"/>
<rect x="869" y="467" width="19" height="13" fill="#d4500f"/>
<rect x="925" y="467" width="19" height="13" fill="#d4500f"/>
<rect x="1074" y="467" width="19" height="13" fill="#d4500f"/>
<rect x="1111" y="467" width="19" height="13" fill="#e0851e"/>
<rect x="1149" y="467" width="37" height="13" fill="#d4500f"/>
<rect x="1279" y="467" width="37" height="13" fill="#d4500f"/>
<rect x="1316" y="467" width="19" height="13" fill="#e0851e"/>
<rect x="1447" y="467" width="37" height="13" fill="#d4500f"/>
<rect x="1503" y="467" width="18" height="13" fill="#e5a535"/>
<rect x="1540" y="467" width="19" height="13" fill="#e0851e"/>
<rect x="1577" y="467" width="75" height="13" fill="#d4500f"/>
<rect x="1689" y="467" width="37" height="13" fill="#d4500f"/>
<rect x="1745" y="467" width="18" height="13" fill="#e0851e"/>
<rect x="1763" y="467" width="19" height="13" fill="#d4500f"/>
<rect x="1857" y="467" width="18" height="13" fill="#d4500f"/>
<rect x="1875" y="467" width="19" height="13" fill="#e0851e"/>
<rect x="1912" y="467" width="56" height="13" fill="#d4500f"/>
<rect x="1987" y="467" width="37" height="13" fill="#e0851e"/>
<rect x="2062" y="467" width="18" height="13" fill="#e0851e"/>
<rect x="851" y="480" width="18" height="12" fill="#d4500f"/>
<rect x="1149" y="480" width="37" height="12" fill="#d4500f"/>
<rect x="1205" y="480" width="37" height="12" fill="#d4500f"/>
<rect x="1260" y="480" width="19" height="12" fill="#d4500f"/>
<rect x="1335" y="480" width="19" height="12" fill="#d4500f"/>
<rect x="1372" y="480" width="19" height="12" fill="#e0851e"/>
<rect x="1409" y="480" width="38" height="12" fill="#d4500f"/>
<rect x="1484" y="480" width="37" height="12" fill="#d4500f"/>
<rect x="1521" y="480" width="19" height="12" fill="#e6b655"/>
<rect x="1540" y="480" width="19" height="12" fill="#e0851e"/>
<rect x="1559" y="480" width="18" height="12" fill="#d4500f"/>
<rect x="1596" y="480" width="18" height="12" fill="#e0851e"/>
<rect x="1633" y="480" width="19" height="12" fill="#d4500f"/>
<rect x="1689" y="480" width="19" height="12" fill="#d4500f"/>
<rect x="1726" y="480" width="19" height="12" fill="#d4500f"/>
<rect x="1763" y="480" width="19" height="12" fill="#e5a535"/>
<rect x="1782" y="480" width="19" height="12" fill="#e0851e"/>
<rect x="1819" y="480" width="19" height="12" fill="#d4500f"/>
<rect x="1857" y="480" width="74" height="12" fill="#d4500f"/>
<rect x="1950" y="480" width="18" height="12" fill="#e0851e"/>
<rect x="1968" y="480" width="19" height="12" fill="#d4500f"/>
<rect x="2043" y="480" width="37" height="12" fill="#d4500f"/>
<rect x="925" y="492" width="19" height="13" fill="#e0851e"/>
<rect x="944" y="492" width="18" height="13" fill="#d4500f"/>
<rect x="1223" y="492" width="19" height="13" fill="#e0851e"/>
<rect x="1260" y="492" width="94" height="13" fill="#d4500f"/>
<rect x="1503" y="492" width="18" height="13" fill="#d4500f"/>
<rect x="1521" y="492" width="19" height="13" fill="#e0851e"/>
<rect x="1559" y="492" width="37" height="13" fill="#d4500f"/>
<rect x="1670" y="492" width="19" height="13" fill="#e0851e"/>
<rect x="1708" y="492" width="18" height="13" fill="#e6b655"/>
<rect x="1726" y="492" width="19" height="13" fill="#d4500f"/>
<rect x="1782" y="492" width="19" height="13" fill="#d4500f"/>
<rect x="1801" y="492" width="18" height="13" fill="#e0851e"/>
<rect x="1838" y="492" width="19" height="13" fill="#d4500f"/>
<rect x="1912" y="492" width="19" height="13" fill="#d4500f"/>
<rect x="1987" y="492" width="37" height="13" fill="#d4500f"/>
<rect x="2043" y="492" width="19" height="13" fill="#e5a535"/>
<rect x="2062" y="492" width="18" height="13" fill="#e0851e"/>
<rect x="906" y="505" width="19" height="13" fill="#d4500f"/>
<rect x="1056" y="505" width="18" height="13" fill="#d4500f"/>
<rect x="1279" y="505" width="19" height="13" fill="#d4500f"/>
<rect x="1298" y="505" width="18" height="13" fill="#e0851e"/>
<rect x="1316" y="505" width="19" height="13" fill="#d4500f"/>
<rect x="1484" y="505" width="19" height="13" fill="#e0851e"/>
<rect x="1521" y="505" width="56" height="13" fill="#d4500f"/>
<rect x="1763" y="505" width="19" height="13" fill="#d4500f"/>
<rect x="1875" y="505" width="37" height="13" fill="#d4500f"/>
<rect x="1950" y="505" width="18" height="13" fill="#d4500f"/>
<rect x="2006" y="505" width="18" height="13" fill="#e0851e"/>
<rect x="2062" y="505" width="18" height="13" fill="#d4500f"/>
<rect x="2099" y="505" width="18" height="13" fill="#e0851e"/>
<rect x="888" y="518" width="18" height="13" fill="#d4500f"/>
<rect x="1093" y="518" width="37" height="13" fill="#d4500f"/>
<rect x="1242" y="518" width="18" height="13" fill="#d4500f"/>
<rect x="1428" y="518" width="19" height="13" fill="#d4500f"/>
<rect x="1484" y="518" width="19" height="13" fill="#d4500f"/>
<rect x="1521" y="518" width="38" height="13" fill="#d4500f"/>
<rect x="1596" y="518" width="74" height="13" fill="#d4500f"/>
<rect x="1689" y="518" width="19" height="13" fill="#d4500f"/>
<rect x="1819" y="518" width="19" height="13" fill="#d4500f"/>
<rect x="1857" y="518" width="18" height="13" fill="#d4500f"/>
<rect x="1894" y="518" width="18" height="13" fill="#d4500f"/>
<rect x="888" y="531" width="18" height="13" fill="#d4500f"/>
<rect x="1074" y="531" width="37" height="13" fill="#d4500f"/>
<rect x="1223" y="531" width="75" height="13" fill="#d4500f"/>
<rect x="1391" y="531" width="56" height="13" fill="#d4500f"/>
<rect x="1484" y="531" width="37" height="13" fill="#d4500f"/>
<rect x="1540" y="531" width="37" height="13" fill="#d4500f"/>
<rect x="1614" y="531" width="19" height="13" fill="#d4500f"/>
<rect x="1633" y="531" width="19" height="13" fill="#e0851e"/>
<rect x="1652" y="531" width="18" height="13" fill="#d4500f"/>
<rect x="1782" y="531" width="19" height="13" fill="#d4500f"/>
<rect x="1838" y="531" width="19" height="13" fill="#d4500f"/>
<rect x="1894" y="531" width="18" height="13" fill="#e0851e"/>
<rect x="1968" y="531" width="19" height="13" fill="#d4500f"/>
<rect x="981" y="544" width="37" height="12" fill="#d4500f"/>
<rect x="1167" y="544" width="38" height="12" fill="#d4500f"/>
<rect x="1354" y="544" width="18" height="12" fill="#d4500f"/>
<rect x="1465" y="544" width="56" height="12" fill="#d4500f"/>
<rect x="1540" y="544" width="19" height="12" fill="#d4500f"/>
<rect x="1614" y="544" width="38" height="12" fill="#d4500f"/>
<rect x="1652" y="544" width="18" height="12" fill="#e0851e"/>
<rect x="1726" y="544" width="37" height="12" fill="#d4500f"/>
<rect x="1763" y="544" width="19" height="12" fill="#e0851e"/>
<rect x="1838" y="544" width="19" height="12" fill="#d4500f"/>
<rect x="2062" y="544" width="18" height="12" fill="#d4500f"/>
<rect x="2099" y="544" width="18" height="12" fill="#d4500f"/>
<rect x="981" y="556" width="19" height="13" fill="#d4500f"/>
<rect x="1167" y="556" width="38" height="13" fill="#d4500f"/>
<rect x="1316" y="556" width="19" height="13" fill="#d4500f"/>
<rect x="1428" y="556" width="19" height="13" fill="#d4500f"/>
<rect x="1484" y="556" width="19" height="13" fill="#d4500f"/>
<rect x="1559" y="556" width="18" height="13" fill="#d4500f"/>
<rect x="1596" y="556" width="37" height="13" fill="#d4500f"/>
<rect x="1726" y="556" width="19" height="13" fill="#e0851e"/>
<rect x="1950" y="556" width="18" height="13" fill="#d4500f"/>
<rect x="1987" y="556" width="56" height="13" fill="#d4500f"/>
<rect x="2062" y="556" width="18" height="13" fill="#d4500f"/>
<rect x="1130" y="569" width="19" height="13" fill="#d4500f"/>
<rect x="1186" y="569" width="19" height="13" fill="#d4500f"/>
<rect x="1298" y="569" width="18" height="13" fill="#e0851e"/>
<rect x="1335" y="569" width="37" height="13" fill="#d4500f"/>
<rect x="1465" y="569" width="38" height="13" fill="#d4500f"/>
<rect x="1540" y="569" width="37" height="13" fill="#d4500f"/>
<rect x="1633" y="569" width="37" height="13" fill="#d4500f"/>
<rect x="1689" y="569" width="19" height="13" fill="#d4500f"/>
<rect x="1857" y="569" width="18" height="13" fill="#d4500f"/>
<rect x="1968" y="569" width="19" height="13" fill="#e0851e"/>
<rect x="2043" y="569" width="37" height="13" fill="#d4500f"/>
<rect x="1111" y="582" width="19" height="13" fill="#d4500f"/>
<rect x="1167" y="582" width="19" height="13" fill="#d4500f"/>
<rect x="1335" y="582" width="37" height="13" fill="#d4500f"/>
<rect x="1559" y="582" width="37" height="13" fill="#d4500f"/>
<rect x="1875" y="582" width="19" height="13" fill="#d4500f"/>
<rect x="981" y="595" width="19" height="13" fill="#d4500f"/>
<rect x="1037" y="595" width="19" height="13" fill="#d4500f"/>
<rect x="1186" y="595" width="19" height="13" fill="#d4500f"/>
<rect x="1335" y="595" width="19" height="13" fill="#e0851e"/>
<rect x="1391" y="595" width="18" height="13" fill="#d4500f"/>
<rect x="1521" y="595" width="19" height="13" fill="#d4500f"/>
<rect x="1540" y="595" width="19" height="13" fill="#e0851e"/>
<rect x="1596" y="595" width="18" height="13" fill="#d4500f"/>
<rect x="1726" y="595" width="19" height="13" fill="#d4500f"/>
<rect x="1763" y="595" width="19" height="13" fill="#d4500f"/>
<rect x="1857" y="595" width="18" height="13" fill="#d4500f"/>
<rect x="1950" y="595" width="18" height="13" fill="#d4500f"/>
<rect x="2080" y="595" width="19" height="13" fill="#d4500f"/>
<rect x="851" y="608" width="18" height="12" fill="#d4500f"/>
<rect x="925" y="608" width="19" height="12" fill="#d4500f"/>
<rect x="1000" y="608" width="18" height="12" fill="#d4500f"/>
<rect x="1428" y="608" width="19" height="12" fill="#d4500f"/>
<rect x="1577" y="608" width="19" height="12" fill="#e0851e"/>
<rect x="1596" y="608" width="18" height="12" fill="#d4500f"/>
<rect x="1652" y="608" width="18" height="12" fill="#d4500f"/>
<rect x="1708" y="608" width="18" height="12" fill="#d4500f"/>
<rect x="2062" y="608" width="18" height="12" fill="#d4500f"/>
<rect x="1018" y="620" width="19" height="13" fill="#d4500f"/>
<rect x="1130" y="620" width="19" height="13" fill="#d4500f"/>
<rect x="1223" y="620" width="19" height="13" fill="#d4500f"/>
<rect x="1316" y="620" width="19" height="13" fill="#d4500f"/>
<rect x="1559" y="620" width="18" height="13" fill="#d4500f"/>
<rect x="1596" y="620" width="18" height="13" fill="#d4500f"/>
<rect x="1652" y="620" width="18" height="13" fill="#d4500f"/>
<rect x="1726" y="620" width="19" height="13" fill="#d4500f"/>
<rect x="1037" y="633" width="19" height="13" fill="#d4500f"/>
<rect x="1242" y="633" width="18" height="13" fill="#d4500f"/>
<rect x="1298" y="633" width="18" height="13" fill="#d4500f"/>
<rect x="1372" y="633" width="19" height="13" fill="#d4500f"/>
<rect x="1409" y="633" width="19" height="13" fill="#d4500f"/>
<rect x="1447" y="633" width="18" height="13" fill="#e5a535"/>
<rect x="1503" y="633" width="18" height="13" fill="#d4500f"/>
<rect x="1633" y="633" width="19" height="13" fill="#d4500f"/>
<rect x="1670" y="633" width="19" height="13" fill="#d4500f"/>
<rect x="2043" y="633" width="19" height="13" fill="#d4500f"/>
<rect x="1018" y="646" width="19" height="13" fill="#d4500f"/>
<rect x="1260" y="646" width="19" height="13" fill="#d4500f"/>
<rect x="1354" y="646" width="18" height="13" fill="#d4500f"/>
<rect x="1447" y="646" width="18" height="13" fill="#d4500f"/>
<rect x="1503" y="646" width="18" height="13" fill="#d4500f"/>
<rect x="1894" y="646" width="18" height="13" fill="#d4500f"/>
<rect x="981" y="659" width="19" height="13" fill="#d4500f"/>
<rect x="1149" y="659" width="18" height="13" fill="#e0851e"/>
<rect x="1223" y="659" width="37" height="13" fill="#d4500f"/>
<rect x="1354" y="659" width="18" height="13" fill="#d4500f"/>
<rect x="1391" y="659" width="37" height="13" fill="#d4500f"/>
<rect x="1447" y="659" width="56" height="13" fill="#d4500f"/>
<rect x="1521" y="659" width="19" height="13" fill="#e0851e"/>
<rect x="1540" y="659" width="19" height="13" fill="#d4500f"/>
<rect x="1614" y="659" width="19" height="13" fill="#d4500f"/>
<rect x="1801" y="659" width="18" height="13" fill="#d4500f"/>
<rect x="2006" y="659" width="18" height="13" fill="#d4500f"/>
<rect x="1056" y="672" width="18" height="12" fill="#d4500f"/>
<rect x="1130" y="672" width="19" height="12" fill="#d4500f"/>
<rect x="1596" y="672" width="37" height="12" fill="#d4500f"/>
<rect x="1577" y="684" width="19" height="13" fill="#e0851e"/>
<rect x="1763" y="684" width="19" height="13" fill="#d4500f"/>
<rect x="1819" y="684" width="19" height="13" fill="#e0851e"/>
<rect x="1987" y="684" width="19" height="13" fill="#d4500f"/>
<rect x="1409" y="697" width="38" height="13" fill="#d4500f"/>
<rect x="1521" y="697" width="19" height="13" fill="#d4500f"/>
<rect x="1577" y="697" width="19" height="13" fill="#e0851e"/>
<rect x="1596" y="697" width="18" height="13" fill="#d4500f"/>
<rect x="1745" y="697" width="18" height="13" fill="#d4500f"/>
<rect x="1894" y="697" width="18" height="13" fill="#d4500f"/>
<rect x="2043" y="697" width="19" height="13" fill="#d4500f"/>
<rect x="2099" y="697" width="18" height="13" fill="#d4500f"/>
<rect x="1242" y="710" width="37" height="13" fill="#d4500f"/>
<rect x="1354" y="710" width="18" height="13" fill="#d4500f"/>
<rect x="1559" y="710" width="18" height="13" fill="#d4500f"/>
<rect x="1130" y="723" width="19" height="13" fill="#d4500f"/>
<rect x="1260" y="723" width="19" height="13" fill="#d4500f"/>
<rect x="1335" y="723" width="19" height="13" fill="#d4500f"/>
<rect x="1428" y="723" width="19" height="13" fill="#d4500f"/>
<rect x="1484" y="723" width="19" height="13" fill="#e0851e"/>
<rect x="1577" y="723" width="19" height="13" fill="#d4500f"/>
<rect x="1633" y="723" width="19" height="13" fill="#e0851e"/>
<rect x="1894" y="723" width="18" height="13" fill="#d4500f"/>
<rect x="888" y="736" width="18" height="12" fill="#d4500f"/>
<rect x="1111" y="736" width="19" height="12" fill="#d4500f"/>
<rect x="1298" y="736" width="56" height="12" fill="#d4500f"/>
<rect x="1782" y="736" width="19" height="12" fill="#d4500f"/>
<rect x="1205" y="748" width="18" height="13" fill="#d4500f"/>
<rect x="2099" y="748" width="18" height="13" fill="#d4500f"/>
<rect x="1316" y="761" width="19" height="13" fill="#d4500f"/>
<rect x="1391" y="761" width="18" height="13" fill="#d4500f"/>
<rect x="1708" y="761" width="18" height="13" fill="#d4500f"/>
<rect x="1819" y="761" width="19" height="13" fill="#d4500f"/>
<rect x="1279" y="774" width="19" height="13" fill="#d4500f"/>
<rect x="1372" y="774" width="37" height="13" fill="#d4500f"/>
<rect x="1428" y="774" width="19" height="13" fill="#d4500f"/>
<rect x="1596" y="774" width="18" height="13" fill="#e0851e"/>
<rect x="1167" y="787" width="19" height="13" fill="#d4500f"/>
<rect x="1335" y="787" width="19" height="13" fill="#e0851e"/>
<rect x="1577" y="787" width="19" height="13" fill="#e0851e"/>
<rect x="1111" y="800" width="19" height="12" fill="#d4500f"/>
<rect x="1316" y="800" width="19" height="12" fill="#d4500f"/>
<rect x="1409" y="812" width="19" height="13" fill="#d4500f"/>
<rect x="1577" y="812" width="19" height="13" fill="#d4500f"/>
<rect x="1708" y="812" width="18" height="13" fill="#d4500f"/>
<rect x="1577" y="838" width="19" height="13" fill="#d4500f"/>
<rect x="1652" y="838" width="18" height="13" fill="#d4500f"/>
<rect x="1652" y="851" width="18" height="13" fill="#d4500f"/>
<rect x="981" y="864" width="19" height="12" fill="#d4500f"/>
<rect x="1149" y="864" width="18" height="12" fill="#d4500f"/>
<rect x="1205" y="864" width="18" height="12" fill="#d4500f"/>
<rect x="1298" y="864" width="18" height="12" fill="#d4500f"/>
<rect x="1242" y="876" width="18" height="13" fill="#d4500f"/>
<rect x="1577" y="876" width="19" height="13" fill="#d4500f"/>
<rect x="1614" y="876" width="19" height="13" fill="#d4500f"/>
<rect x="1447" y="889" width="18" height="13" fill="#d4500f"/>
<rect x="1577" y="889" width="19" height="13" fill="#d4500f"/>
<rect x="1335" y="902" width="19" height="13" fill="#d4500f"/>
<rect x="1726" y="902" width="19" height="13" fill="#d4500f"/>
<rect x="1782" y="928" width="19" height="12" fill="#d4500f"/>
<rect x="1242" y="953" width="18" height="13" fill="#d4500f"/>
<rect x="1596" y="979" width="18" height="13" fill="#d4500f"/>
<rect x="1819" y="1004" width="19" height="13" fill="#d4500f"/>
</g>
<path d="M419 160.0V1441.0M512 160.0V1441.0M592 160.0V1441.0M663 160.0V1441.0M727 160.0V1441.0M1145 160.0V1441.0M1390 160.0V1441.0M1563 160.0V1441.0M1698 160.0V1441.0M1808 160.0V1441.0M1901 160.0V1441.0M1982 160.0V1441.0M2053 160.0V1441.0M2116 160.0V1441.0M310 1440H2174.0M310 1186H2174.0M310 933H2174.0M310 679H2174.0M310 426H2174.0M310 172H2174.0" stroke="#efe5c7" stroke-width="2" stroke-dasharray="1 2" fill="none" shape-rendering="crispEdges"/>
<path d="M310.5 160.0V1440.5H2174.0M310.5 1440.5h64M310.5 1377.5h31M310.5 1313.5h31M310.5 1250.5h31M310.5 1186.5h64M310.5 1123.5h31M310.5 1060.5h31M310.5 996.5h31M310.5 933.5h64M310.5 869.5h31M310.5 806.5h31M310.5 743.5h31M310.5 679.5h64M310.5 616.5h31M310.5 552.5h31M310.5 489.5h31M310.5 426.5h64M310.5 362.5h31M310.5 299.5h31M310.5 235.5h31M310.5 172.5h64M419.5 1440.5v-18M512.5 1440.5v-18M592.5 1440.5v-18M663.5 1440.5v-18M727.5 1440.5v-35M1145.5 1440.5v-18M1390.5 1440.5v-18M1563.5 1440.5v-18M1698.5 1440.5v-18M1808.5 1440.5v-18M1901.5 1440.5v-18M1982.5 1440.5v-18M2053.5 1440.5v-18M2116.5 1440.5v-35" stroke="#efe5c7" stroke-width="1" fill="none" shape-rendering="crispEdges"/>
<rect x="2186" y="160.0" width="117" height="1280.0" fill="url(#cb)"/>
<path d="M2303 1440.5h-61M2303 1247.5h-30M2303 1135.5h-30M2303 1055.5h-30M2303 993.5h-30M2303 942.5h-30M2303 899.5h-30M2303 862.5h-30M2303 829.5h-30M2303 800.5h-61M2303 607.5h-30M2303 495.5h-30M2303 415.5h-30M2303 353.5h-30M2303 302.5h-30M2303 259.5h-30M2303 222.5h-30M2303 189.5h-30" stroke="#000" stroke-width="1" fill="none" shape-rendering="crispEdges"/>
</svg>
<div class="t title">Targeted timedelay probability vs.<span class="xi">Ξ</span></div>
<div class="t yl" style="top:1415.2px">0</div>
<div class="t yl" style="top:1161.6px">0.2</div>
<div class="t yl" style="top:908.0px">0.4</div>
<div class="t yl" style="top:654.4px">0.6</div>
<div class="t yl" style="top:400.8px">0.8</div>
<div class="t yl" style="top:147.2px">1</div>
<div class="t xl" style="left:627.4px;top:1468px">1</div>
<div class="t xl" style="left:2016.7px;top:1468px">10</div>
<div class="t" style="font-size:53.4px;right:414px;top:1497.6px;transform-origin:100% 50%;transform:scaleX(0.98)">Injection Amplitude</div>
<div class="t at" style="left:170.8px;top:157.5px;transform-origin:0 0;transform:rotate(-90deg) translate(-100%,-100%);"><span style="display:inline-block;transform-origin:100% 50%;transform:scaleX(0.945)">Probability for event timedelay to be compatible with targeted</span></div>
<div class="t at" style="left:2470.5px;top:158px;transform-origin:0 0;transform:rotate(-90deg) translate(-100%,-100%);"><span style="display:inline-block;transform-origin:100% 50%;transform:scaleX(0.947)">Number detected injections</span></div>
<div class="t cl" style="top:134px">10</div>
<div class="t cl" style="top:774px">1</div>
<div class="t cl" style="top:1418px">10<span style="font-size:33px;position:relative;top:-22px;margin-left:-5px;">−1</span></div>
</body></html>
